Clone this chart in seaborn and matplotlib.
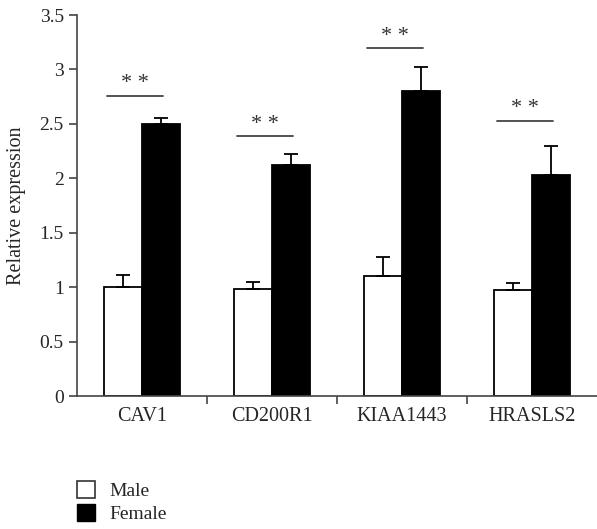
import numpy as np
import pandas as pd
import matplotlib
matplotlib.use("Agg")
import matplotlib.pyplot as plt
from matplotlib.patches import Patch
import seaborn as sns

genes = ["CAV1", "CD200R1", "KIAA1443", "HRASLS2"]
male_mean = [1.00, 0.98, 1.10, 0.97]
male_err = [0.11, 0.07, 0.18, 0.07]
female_mean = [2.50, 2.12, 2.80, 2.03]
female_err = [0.05, 0.10, 0.22, 0.27]
sig_height = [2.76, 2.39, 3.20, 2.53]
sig_label = ["**", "**", "**", "**"]

sns.set_style("ticks")
plt.rcParams["font.family"] = ["Liberation Serif", "DejaVu Serif"]

df = pd.DataFrame({
    "gene": genes * 2,
    "sex": ["Male"] * 4 + ["Female"] * 4,
    "value": male_mean + female_mean,
})

fig = plt.figure(figsize=(5.97, 5.29), dpi=100)
ax = fig.add_axes([0.129, 0.2514, 0.871, 0.7202])

sns.barplot(data=df, x="gene", y="value", hue="sex", order=genes,
            hue_order=["Male", "Female"], palette=["white", "black"],
            width=0.58, edgecolor="black", linewidth=1.3, errorbar=None,
            legend=False, ax=ax)

# one-sided error bars taken from the bar geometry
bars = ax.patches
means = male_mean + female_mean
errs = male_err + female_err
for bar, m, e in zip(bars, means, errs):
    xc = bar.get_x() + bar.get_width() / 2
    ax.errorbar(xc, m, yerr=[[0], [e]], fmt="none", ecolor="black",
                elinewidth=1.3, capsize=5, capthick=1.3)

for i, (h, lab) in enumerate(zip(sig_height, sig_label)):
    ax.plot([i - 0.27, i + 0.16], [h, h], color="#444444", lw=1.3)
    ax.text(i - 0.055, h + 0.02, lab.replace("*", "* ").strip(), ha="center",
            va="bottom", fontsize=16, color="#333333")

ax.set_xlim(-0.5, 3.5)
ax.set_ylim(0, 3.5)
ax.set_yticks([0, 0.5, 1, 1.5, 2, 2.5, 3, 3.5])
ax.set_yticklabels(["0", "0.5", "1", "1.5", "2", "2.5", "3", "3.5"])
ax.set_xticks([0.5, 1.5, 2.5], minor=False)
ax.set_xticklabels([])
ax.set_xticks(range(4), genes, minor=True)
ax.tick_params(axis="x", which="minor", length=0, labelsize=14.5, pad=8)
ax.tick_params(axis="x", which="major", length=6, width=1.2, color="#444444")
ax.tick_params(axis="y", length=6, width=1.2, color="#444444", labelsize=14)
ax.set_xlabel("")
ax.set_ylabel("Relative expression", fontsize=14.5)
ax.yaxis.set_label_coords(-0.098, 0.5)
sns.despine(ax=ax)
for s in ["left", "bottom"]:
    ax.spines[s].set_color("#444444")
    ax.spines[s].set_linewidth(1.2)

handles = [Patch(facecolor="white", edgecolor="#333333", lw=1.2, label="Male"),
           Patch(facecolor="black", edgecolor="black", label="Female")]
fig.legend(handles=handles, loc="upper left", bbox_to_anchor=(0.112, 0.109),
           frameon=False, fontsize=14, handlelength=0.95, handleheight=0.95,
           handletextpad=0.75, labelspacing=0.2, borderpad=0)

fig.savefig("out.png", dpi=100)
